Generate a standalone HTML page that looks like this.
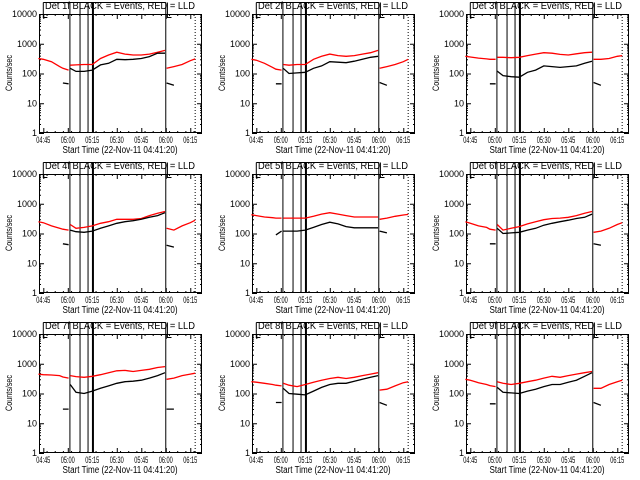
<!DOCTYPE html>
<html><head><meta charset="utf-8"><style>
html,body{margin:0;padding:0;background:#fff;width:640px;height:480px;overflow:hidden}
svg{display:block}
text{font-family:"Liberation Sans",sans-serif;fill:#000}
</style></head><body>
<svg id="chart" width="640" height="480" viewBox="0 0 640 480" xmlns="http://www.w3.org/2000/svg"></svg>
<script>
// minutes since 04:45
const times = [-3, 0, 5, 10, 12, 15.5, 16.5, 20, 25, 30, 35, 40, 45, 50, 55, 60, 65, 70, 74.5, 75.5, 80, 85, 90, 93];
const gapAfter = [5, 18];
const detectors = ["1f","2f","3f","4f","5f","6f","7f","8f","9f"];
const redSeries = [
 [320,300,250,170,150,130, 190,195,200,200,320,420,520,450,420,420,450,520,600, 150,170,200,270,310],
 [300,280,220,160,140,130, 200,190,200,200,300,380,450,400,380,400,450,500,600, 150,170,200,250,300],
 [380,360,330,310,300,300, 350,350,340,350,400,450,500,480,440,420,460,500,520, 300,300,320,380,400],
 [250,230,180,150,140,130, 200,150,160,180,220,250,300,300,300,320,400,480,550, 150,130,180,230,280],
 [430,400,360,340,330,330, 330,330,330,330,380,450,500,450,400,360,360,360,360, 300,330,380,420,440],
 [250,220,180,160,140,130, 200,130,150,170,210,250,290,320,330,350,400,480,550, 110,120,150,200,230],
 [450,430,420,400,360,330, 400,370,350,380,430,500,580,600,550,600,650,750,800, 300,330,400,450,480],
 [250,240,220,200,190,180, 220,190,170,200,240,280,320,350,320,350,400,450,500, 130,140,180,230,250],
 [300,280,230,200,185,170, 250,220,200,220,250,280,330,380,350,400,450,500,550, 150,150,200,250,280]
];
const blackSeries = [
 [null,null,null,null,48,45, 150,118,118,130,195,220,300,290,300,320,370,480,480, 48,40,null,null,null],
 [null,null,null,null,45,45, 150,100,105,110,150,180,250,240,230,260,300,350,380, 50,40,null,null,null],
 [null,null,null,null,45,45, 120,85,78,75,110,130,180,170,160,170,180,220,260, 50,40,null,null,null],
 [null,null,null,null,45,42, 130,115,110,120,150,180,220,250,270,300,350,400,500, 40,35,null,null,null],
 [null,null,null,null,90,120, 120,120,120,130,160,200,240,210,170,155,155,155,155, 120,105,null,null,null],
 [null,null,null,null,45,45, 150,100,105,110,130,150,190,220,250,280,320,350,450, 45,40,null,null,null],
 [null,null,null,null,30,30, 200,110,100,120,150,180,220,250,260,280,330,400,500, 30,30,null,null,null],
 [null,null,null,null,50,50, 150,100,95,90,120,160,200,220,220,260,300,350,400, 50,40,null,null,null],
 [null,null,null,null,45,45, 160,110,105,100,120,140,170,200,200,240,280,380,500, 50,40,null,null,null]
];
const xTickLabels = ["04:45","05:00","05:15","05:30","05:45","06:00","06:15"];
const xTickMinutes = [0,15,30,45,60,75,90];
const yTickLabels = ["10000","1000","100","10","1"];
const yTickValues = [10000,1000,100,10,1];
const markerMinutes = [16.3,22.5,27.4,30.4,75];
const dottedMinute = 93;

const NS="http://www.w3.org/2000/svg";
const svg=document.getElementById('chart');
const L=39,R=202,T=14,B=133;
function mk(tag,attrs,parent){const e=document.createElementNS(NS,tag);for(const k in attrs)e.setAttribute(k,attrs[k]);parent.appendChild(e);return e;}
function xs(m){return 43.3+m*1.633;}
function ys(v){return B-(Math.log10(v))*(B-T)/4;}

detectors.forEach((det,p)=>{
  const ox=[0,213,427][p%3], oy=[0,160,320][Math.floor(p/3)];
  const g=mk('g',{transform:`translate(${ox},${oy})`},svg);
  
  
  // top connector line & brackets
  const deco=mk('g',{stroke:'#000','stroke-width':1,fill:'none'},g);
  
  
  mk('path',{d:`M${xs(0)} 2.5H${xs(75)}M${xs(0)} 2.5V17.5H${xs(2.5)}M${xs(76)} 2.5V17.5H${xs(78.5)}`},deco);
  markerMinutes.forEach((m,i)=>{
    const l=mk('line',{x1:xs(m),x2:xs(m),y1:2.5,y2:B,'stroke-width':i==3?2:1},deco);
    
    
  });
  const dl=mk('line',{x1:xs(dottedMinute),x2:xs(dottedMinute),y1:T,y2:B,'stroke-dasharray':'1,2'},deco);
  
  
  // title
  const tt=mk('text',{x:120,y:9,'font-size':10,'text-anchor':'middle',textLength:150,lengthAdjust:'spacingAndGlyphs'},g);
  tt.textContent=`Det ${det} BLACK = Events, RED = LLD`;
  
  
  // axes box
  const ax=mk('g',{stroke:'#000','stroke-width':1,fill:'none'},g);
  
  
  mk('rect',{x:L+0.5,y:T+0.5,width:R-L-1,height:B-T-1},ax);
  let d='';
  for(let e=0;e<4;e++)for(let k=2;k<10;k++){const y=ys(k*Math.pow(10,e))+0.5;d+=`M${L} ${y}h2M${R} ${y}h-2`;}
  yTickValues.forEach(v=>{const y=ys(v)+0.5;d+=`M${L} ${y}h5M${R} ${y}h-5`;});
  xTickMinutes.forEach(m=>{const x=xs(m)+0.5;d+=`M${x} ${B}v-5M${x} ${T}v5`;});
  for(let m=-3;m<=97;m+=5){const x=xs(m)+0.5;if(x>L&&x<R)d+=`M${x} ${B}v-2M${x} ${T}v2`;}
  mk('path',{d:d},ax);
  yTickLabels.forEach((lab,i)=>{
    const t=mk('text',{x:37,y:ys(yTickValues[i])+3,'font-size':9,'text-anchor':'end'},g);
    t.textContent=lab;
    
    
  });
  xTickLabels.forEach((lab,i)=>{
    const t=mk('text',{x:xs(xTickMinutes[i]),y:143,'font-size':9,'text-anchor':'middle',textLength:14,lengthAdjust:'spacingAndGlyphs'},g);
    t.textContent=lab;
    
    
  });
  const xl=mk('text',{x:120,y:153,'font-size':10,'text-anchor':'middle',textLength:115,lengthAdjust:'spacingAndGlyphs'},g);
  xl.textContent='Start Time (22-Nov-11 04:41:20)';
  
  
  const yl=mk('text',{x:0,y:0,'font-size':9,'text-anchor':'middle',transform:'translate(12,73) rotate(-90)',textLength:36,lengthAdjust:'spacingAndGlyphs'},g);
  yl.textContent='Counts/sec';
  
  
  // series
  [[redSeries[p],'#ff0000','red-lld-series'],[blackSeries[p],'#000','black-events-series']].forEach(([vals,col,nm])=>{
    let path='',pen=false;
    times.forEach((t,i)=>{
      const v=vals[i];
      if(v==null){pen=false;return;}
      path+=(pen?'L':'M')+xs(t).toFixed(1)+' '+ys(v).toFixed(1);
      pen=!gapAfter.includes(i);
    });
    const pl=mk('path',{d:path,stroke:col,'stroke-width':1.3,fill:'none'},g);
    
    
  });
});
</script>
</body></html>
